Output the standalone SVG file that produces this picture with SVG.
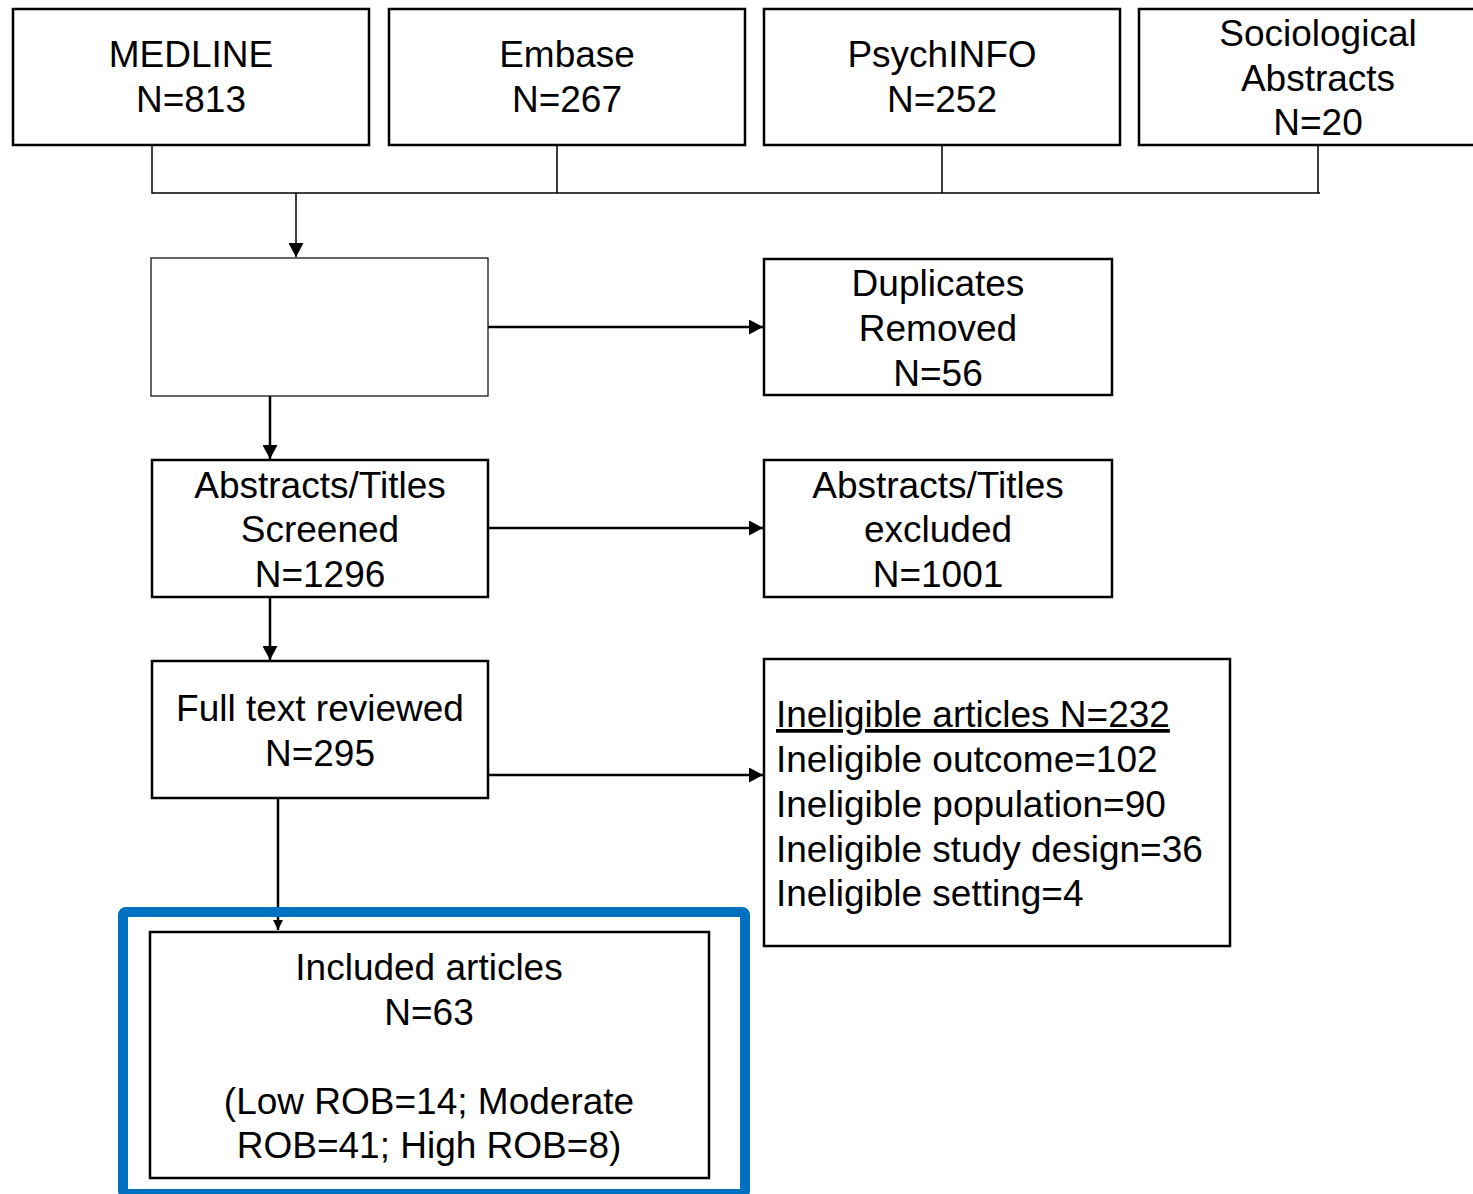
<svg xmlns="http://www.w3.org/2000/svg" width="1473" height="1194" viewBox="0 0 1473 1194">
<style>
.box{fill:#fff;stroke:#000;stroke-width:2.5}
.thin{fill:#fff;stroke:#000;stroke-width:1.2}
.t{font-family:"Liberation Sans",Arial,sans-serif;font-size:37px;fill:#000;text-anchor:middle}
.l{font-family:"Liberation Sans",Arial,sans-serif;font-size:37px;fill:#000}
.c{fill:none;stroke:#000;stroke-width:1.5}
.a{fill:none;stroke:#000;stroke-width:2.5}
</style>
<defs>
<marker id="ah" markerWidth="14" markerHeight="15" refX="14" refY="7.5" orient="auto" markerUnits="userSpaceOnUse"><path d="M0,0 L14,7.5 L0,15 Z" fill="#000"/></marker>
<marker id="ahs" markerWidth="10" markerHeight="10" refX="10" refY="5" orient="auto" markerUnits="userSpaceOnUse"><path d="M0,0 L10,5 L0,10 Z" fill="#000"/></marker>
</defs>
<rect x="0" y="0" width="1473" height="1194" fill="#fff"/>
<g id="connectors">
<path class="c" d="M152,145 V193 H1320 M557,145 V193 M942,145 V193 M1318,145 V193"/>
<path class="c" d="M296,193 V257" marker-end="url(#ah)" stroke-width="2"/>
<path class="a" d="M488,327 H763" marker-end="url(#ah)"/>
<path class="a" d="M270,396 V459" marker-end="url(#ah)"/>
<path class="a" d="M488,528 H763" marker-end="url(#ah)"/>
<path class="a" d="M270,597 V660" marker-end="url(#ah)"/>
<path class="a" d="M488,775 H763" marker-end="url(#ah)"/>
<path class="a" d="M278,798 V930" marker-end="url(#ahs)"/>
</g>
<g id="medline"><rect class="box" x="13" y="9" width="356" height="136"/><text class="t" x="191" y="67">MEDLINE</text><text class="t" x="191" y="112">N=813</text></g>
<g id="embase"><rect class="box" x="389" y="9" width="356" height="136"/><text class="t" x="567" y="67">Embase</text><text class="t" x="567" y="112">N=267</text></g>
<g id="psychinfo"><rect class="box" x="764" y="9" width="356" height="136"/><text class="t" x="942" y="67">PsychINFO</text><text class="t" x="942" y="112">N=252</text></g>
<g id="sociological"><rect class="box" x="1139" y="9" width="345" height="136"/><text class="t" x="1318" y="46">Sociological</text><text class="t" x="1318" y="91">Abstracts</text><text class="t" x="1318" y="135">N=20</text></g>
<g id="combined"><rect class="thin" x="151" y="258" width="337" height="138"/></g>
<g id="duplicates"><rect class="box" x="764" y="259" width="348" height="136"/><text class="t" x="938" y="296">Duplicates</text><text class="t" x="938" y="341">Removed</text><text class="t" x="938" y="386">N=56</text></g>
<g id="screened"><rect class="box" x="152" y="460" width="336" height="137"/><text class="t" x="320" y="498">Abstracts/Titles</text><text class="t" x="320" y="542">Screened</text><text class="t" x="320" y="587">N=1296</text></g>
<g id="excluded"><rect class="box" x="764" y="460" width="348" height="137"/><text class="t" x="938" y="498">Abstracts/Titles</text><text class="t" x="938" y="542">excluded</text><text class="t" x="938" y="587">N=1001</text></g>
<g id="fulltext"><rect class="box" x="152" y="661" width="336" height="137"/><text class="t" x="320" y="721">Full text reviewed</text><text class="t" x="320" y="766">N=295</text></g>
<g id="ineligible"><rect class="box" x="764" y="659" width="466" height="287"/>
<text class="l" x="776" y="727" text-decoration="underline">Ineligible articles N=232</text>
<text class="l" x="776" y="772">Ineligible outcome=102</text>
<text class="l" x="776" y="817">Ineligible population=90</text>
<text class="l" x="776" y="862">Ineligible study design=36</text>
<text class="l" x="776" y="906">Ineligible setting=4</text></g>
<g id="included"><rect x="123" y="912" width="622" height="282" rx="3" fill="none" stroke="#0070C0" stroke-width="10"/>
<rect class="box" x="150" y="932" width="559" height="246"/>
<text class="t" x="429" y="980">Included articles</text>
<text class="t" x="429" y="1025">N=63</text>
<text class="t" x="429" y="1114">(Low ROB=14; Moderate</text>
<text class="t" x="429" y="1158">ROB=41; High ROB=8)</text></g>
</svg>
